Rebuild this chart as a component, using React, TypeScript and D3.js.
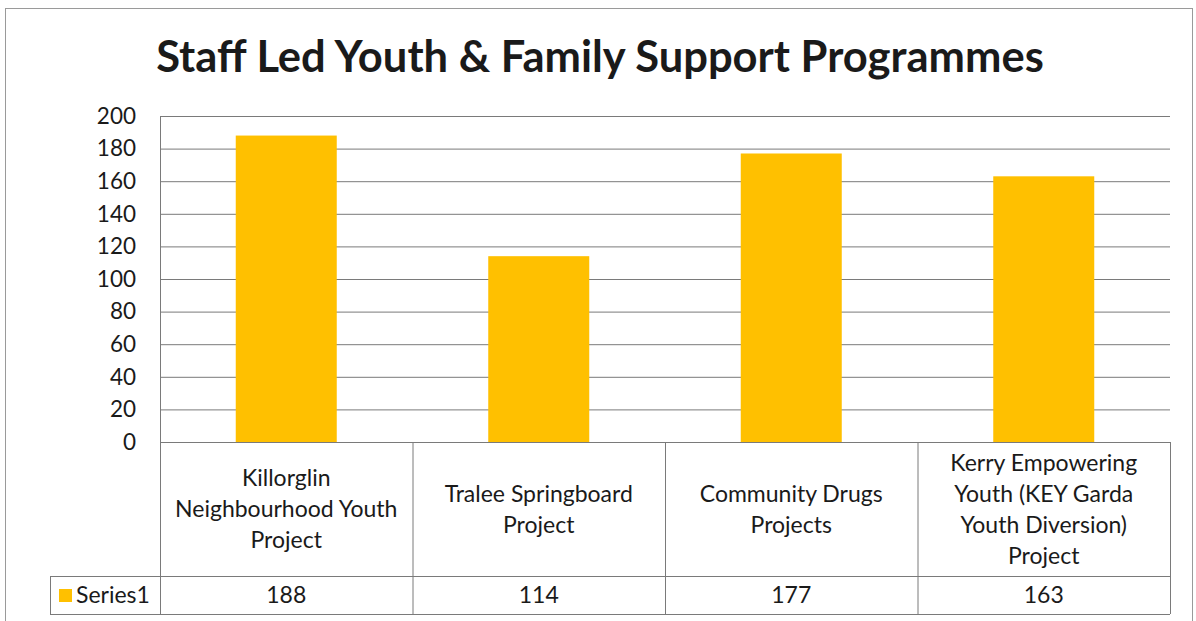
import React from "react";
import * as d3 from "d3";

const title = "Staff Led Youth & Family Support Programmes";
const categoryLines: string[][] = [
  ["Killorglin", "Neighbourhood Youth", "Project"],
  ["Tralee Springboard", "Project"],
  ["Community Drugs", "Projects"],
  ["Kerry Empowering", "Youth (KEY Garda", "Youth Diversion)", "Project"],
];
const categories = categoryLines.map((l) => l.join(" "));
const seriesName = "Series1";
const values = [188, 114, 177, 163];
const yTicks = [0, 20, 40, 60, 80, 100, 120, 140, 160, 180, 200];

const W = 1196;
const H = 621;
const plotL = 160;
const plotR = 1170;
const plotT = 116;
const plotB = 442;
const catRowB = 576;
const valRowB = 614;
const legendL = 50;
const FONT = "Lato, 'Open Sans', sans-serif";
const GOLD = "#FFC000";
const GRID = "#7a7a7a";

export default function App() {
  const x = d3.scaleBand<string>().domain(categories).range([plotL, plotR]).paddingInner(0.6).paddingOuter(0.3);
  const band = d3.scaleBand<string>().domain(categories).range([plotL, plotR]);
  const y = d3.scaleLinear().domain([0, 200]).range([plotB, plotT]);
  const lineH = 31;
  const fs = 23;
  return (
    <svg width={W} height={H} style={{ position: "absolute", left: 0, top: 0 }} fontFamily={FONT}>
      <rect x={0} y={0} width={W} height={H} fill="#fff" />
      <rect x={5.5} y={8.5} width={1187} height={640} fill="none" stroke="#9a9a9a" strokeWidth={1} />
      <text x={600} y={72} textAnchor="middle" fontSize={43.5} fontWeight={700} fill="#1a1a1a">
        {title}
      </text>
      {yTicks.map((t) => (
        <g key={t}>
          <line x1={plotL} x2={plotR} y1={y(t) + 0.5} y2={y(t) + 0.5} stroke={GRID} strokeWidth={1} />
          <text x={136} y={y(t)} dy="0.35em" textAnchor="end" fontSize={22.5} fill="#1a1a1a">
            {t}
          </text>
        </g>
      ))}
      <line x1={plotL + 0.5} x2={plotL + 0.5} y1={plotT} y2={valRowB} stroke={GRID} />
      {categories.map((c, i) => (
        <rect key={c} x={x(c)!} y={y(values[i])} width={x.bandwidth()} height={plotB - y(values[i])} fill={GOLD} />
      ))}
      {/* data table */}
      <line x1={legendL} x2={plotR} y1={catRowB + 0.5} y2={catRowB + 0.5} stroke={GRID} />
      <line x1={legendL} x2={plotR} y1={valRowB + 0.5} y2={valRowB + 0.5} stroke={GRID} />
      <line x1={legendL + 0.5} x2={legendL + 0.5} y1={catRowB} y2={valRowB} stroke={GRID} />
      {categories.map((c) => (
        <line key={c} x1={band(c)! + band.bandwidth() + 0.5} x2={band(c)! + band.bandwidth() + 0.5} y1={plotB} y2={valRowB} stroke={GRID} />
      ))}
      {categoryLines.map((lines, i) => {
        const cx = band(categories[i])! + band.bandwidth() / 2;
        const cy = (plotB + catRowB) / 2;
        const start = cy - ((lines.length - 1) * lineH) / 2;
        return (
          <text key={i} textAnchor="middle" fontSize={fs} fill="#1a1a1a">
            {lines.map((l, j) => (
              <tspan key={j} x={cx} y={start + j * lineH} dy="0.35em">
                {l}
              </tspan>
            ))}
          </text>
        );
      })}
      <rect x={59} y={589} width={13} height={13} fill={GOLD} />
      <text x={76} y={595} dy="0.35em" fontSize={fs} fill="#1a1a1a">
        {seriesName}
      </text>
      {values.map((v, i) => (
        <text key={i} x={band(categories[i])! + band.bandwidth() / 2} y={595} dy="0.35em" textAnchor="middle" fontSize={fs} fill="#1a1a1a">
          {v}
        </text>
      ))}
    </svg>
  );
}
